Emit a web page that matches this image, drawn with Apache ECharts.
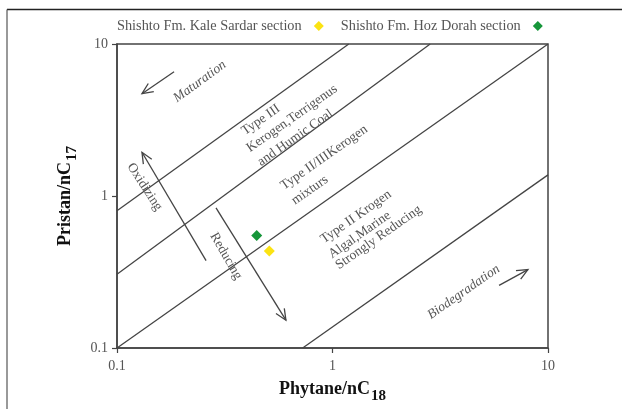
<!DOCTYPE html>
<html>
<head>
<meta charset="utf-8">
<script src="https://cdn.jsdelivr.net/npm/echarts@6/dist/echarts.min.js"></script>
<style>html,body{margin:0;padding:0;background:#fff}#c{width:622px;height:409px}</style>
</head>
<body>
<div id="c"></div>
<script>
// ---- data ----
const seriesNames = ['Shishto Fm. Kale Sardar section', 'Shishto Fm. Hoz Dorah section'];
const kaleSardar = [[0.509, 0.435]];
const hozDorah = [[0.445, 0.55]];
const boundary1 = [[0.1, 0.80], [1.19, 10]];
const boundary2 = [[0.1, 0.306], [2.84, 10]];
const boundary3 = [[0.1, 0.1], [10, 10]];
const boundary4 = [[0.727, 0.1], [10, 1.377]];
const arrowTails = [[0.184, 6.56], [0.259, 0.376], [0.288, 0.835], [5.93, 0.258]];
const arrowHeads = [[0.1306, 4.71], [0.1306, 1.94], [0.608, 0.1524], [8.07, 0.328]];
const noteTexts = ['Maturation', 'Type III', 'Kerogen,Terrigenus', 'and Humic Coal',
  'Type II/IIIKerogen', 'mixturs', 'Type II Krogen', 'Algal,Marine', 'Strongly Reducing',
  'Oxidizing', 'Reducing', 'Biodegradation'];
const noteAnchors = [[0.1858, 4.305], [0.3843, 2.62], [0.4055, 2.029], [0.456, 1.643],
  [0.583, 1.145], [0.656, 0.914], [0.894, 0.508], [0.974, 0.4055], [1.049, 0.3435],
  [0.1149, 1.618], [0.279, 0.565], [2.804, 0.1618]];
const xTickLabels = ['0.1', '1', '10'];
const yTickLabels = ['0.1', '1', '10'];

// ---- styles ----
const noteAngles = [36, 35, 35, 35, 35, 35, 35, 35, 35, -57, -60, 35];
const noteItalic = [true, false, false, false, false, false, false, false, false, false, false, true];
const FONT = '"Liberation Serif", "Times New Roman", serif';
const AX = '#444';

const chart = echarts.init(document.getElementById('c'), null, {renderer: 'canvas'});

function fmt(v) {
  const s = +(+v).toPrecision(3);
  const lbl = String(s);
  return (xTickLabels.indexOf(lbl) >= 0 || yTickLabels.indexOf(lbl) >= 0) ? lbl : '';
}

function lineSeries(d) {
  return {
    type: 'line', data: d, showSymbol: false, symbol: 'none', silent: true,
    lineStyle: {color: AX, width: 1.3}, z: 2, animation: false
  };
}

const option = {
  animation: false,
  backgroundColor: '#fff',
  grid: {left: 117, right: 74, top: 44, bottom: 59, show: true, borderColor: AX, borderWidth: 1.5, backgroundColor: 'transparent'},
  legend: {
    data: seriesNames,
    left: 117, top: 19, padding: 0,
    itemGap: 17, itemWidth: 10, itemHeight: 10, align: 'right',
    formatter: n => n + '  ',
    itemStyle: {opacity: 1},
    textStyle: {fontFamily: FONT, fontSize: 14.3, color: '#555'}
  },
  xAxis: {
    type: 'log', logBase: 10, min: 0.1, max: 10,
    name: '{a|Phytane/nC}{s|18}', nameLocation: 'middle', nameGap: 27,
    nameTextStyle: {
      rich: {
        a: {fontFamily: FONT, fontSize: 18, fontWeight: 'bold', color: '#111'},
        s: {fontFamily: FONT, fontSize: 15, fontWeight: 'bold', color: '#111', padding: [14, 0, 0, 1]}
      }
    },
    axisLine: {show: true, lineStyle: {color: AX, width: 1.5}},
    axisTick: {show: true, length: 5, lineStyle: {color: AX, width: 1.2}},
    minorTick: {show: false},
    splitLine: {show: false},
    axisLabel: {fontFamily: FONT, fontSize: 14, color: '#555', margin: 11, formatter: fmt}
  },
  yAxis: {
    type: 'log', logBase: 10, min: 0.1, max: 10,
    name: '{a|Pristan/nC}{s|17}', nameLocation: 'middle', nameGap: 19,
    nameTextStyle: {
      rich: {
        a: {fontFamily: FONT, fontSize: 18, fontWeight: 'bold', color: '#111'},
        s: {fontFamily: FONT, fontSize: 15, fontWeight: 'bold', color: '#111', padding: [14, 0, 0, 1]}
      }
    },
    axisLine: {show: true, lineStyle: {color: AX, width: 1.5}},
    axisTick: {show: true, length: 5, lineStyle: {color: AX, width: 1.2}},
    minorTick: {show: false},
    splitLine: {show: false},
    axisLabel: {fontFamily: FONT, fontSize: 14, color: '#555', margin: 9, formatter: fmt}
  },
  graphic: [
    {type: 'line', shape: {x1: 7, y1: 9.5, x2: 622, y2: 9.5}, style: {stroke: '#222', lineWidth: 1.6}, silent: true},
    {type: 'line', shape: {x1: 7, y1: 9.5, x2: 7, y2: 409}, style: {stroke: '#555', lineWidth: 1.2}, silent: true}
  ],
  series: [
    lineSeries(boundary1),
    lineSeries(boundary2),
    lineSeries(boundary3),
    lineSeries(boundary4),
    {
      type: 'custom', silent: true, z: 3,
      data: arrowTails.map((t, i) => [t[0], t[1], arrowHeads[i][0], arrowHeads[i][1]]),
      encode: {x: [0, 2], y: [1, 3]},
      renderItem: function (params, api) {
        const p0 = api.coord([api.value(0), api.value(1)]);
        const p1 = api.coord([api.value(2), api.value(3)]);
        const ang = Math.atan2(p1[1] - p0[1], p1[0] - p0[0]);
        const L = 12, spread = 0.42;
        const a1 = [p1[0] - L * Math.cos(ang - spread), p1[1] - L * Math.sin(ang - spread)];
        const a2 = [p1[0] - L * Math.cos(ang + spread), p1[1] - L * Math.sin(ang + spread)];
        const st = {stroke: '#444', lineWidth: 1.3, fill: 'none'};
        return {
          type: 'group',
          children: [
            {type: 'line', shape: {x1: p0[0], y1: p0[1], x2: p1[0], y2: p1[1]}, style: st},
            {type: 'polyline', shape: {points: [a1, p1, a2]}, style: st}
          ]
        };
      }
    },
    {
      type: 'custom', silent: true, z: 3,
      data: noteAnchors.map((p, i) => [p[0], p[1], i]),
      encode: {x: 0, y: 1},
      renderItem: function (params, api) {
        const p = api.coord([api.value(0), api.value(1)]);
        const i = api.value(2);
        return {
          type: 'text', x: p[0], y: p[1], rotation: noteAngles[i] * Math.PI / 180,
          style: {
            text: noteTexts[i], fill: '#555',
            font: (noteItalic[i] ? 'italic ' : '') + '13.5px ' + FONT,
            align: 'left', verticalAlign: 'middle'
          }
        };
      }
    },
    {
      name: seriesNames[0], type: 'scatter', data: kaleSardar, symbol: 'diamond', symbolSize: 11,
      itemStyle: {color: '#fbe313', opacity: 1}, z: 5
    },
    {
      name: seriesNames[1], type: 'scatter', data: hozDorah, symbol: 'diamond', symbolSize: 11,
      itemStyle: {color: '#16963a', opacity: 1}, z: 5
    }
  ]
};
chart.setOption(option);
</script>
</body>
</html>
